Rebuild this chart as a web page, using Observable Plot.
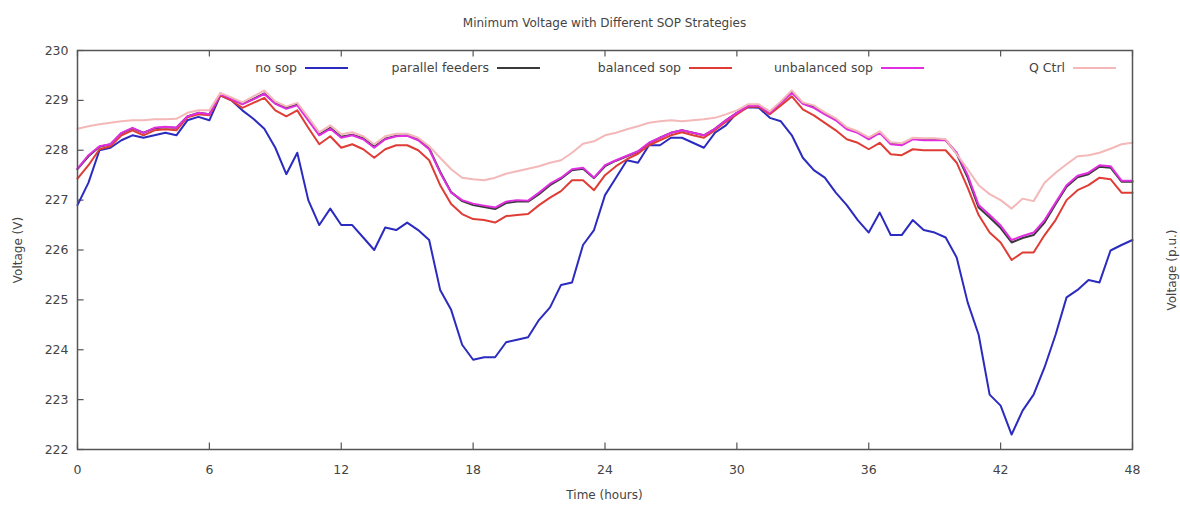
<!DOCTYPE html>
<html><head><meta charset="utf-8">
<script src="https://cdn.jsdelivr.net/npm/d3@7"></script>
<script src="https://cdn.jsdelivr.net/npm/@observablehq/plot@0.6"></script>
<style>
body{margin:0;background:#fff;font-family:"DejaVu Sans",sans-serif;color:#444;}
#wrap{position:relative;width:1180px;height:505px;overflow:hidden;}
#title{position:absolute;left:0;top:16px;width:1209px;text-align:center;font-size:12px;color:#444;}
#chart{position:absolute;left:0;top:40px;}
#legend{position:absolute;left:156px;top:60px;display:flex;}
.entry{width:192px;display:flex;justify-content:flex-end;align-items:center;font-size:12.5px;color:#444;}
.swatch{display:inline-block;width:43px;height:0;border-top:2px solid;margin-left:8px;}
.ylab{position:absolute;font-size:12px;color:#444;white-space:nowrap;transform:translate(-50%,-50%) rotate(-90deg);}
#xlab{position:absolute;left:0;width:1209px;top:488px;text-align:center;font-size:12px;color:#444;}
</style>
</head><body>
<div id="wrap">
  <div id="title">Minimum Voltage with Different SOP Strategies</div>
  <div id="chart"></div>
  <div id="legend"></div>
  <div class="ylab" style="left:18px;top:250px;">Voltage (V)</div>
  <div class="ylab" style="left:1172px;top:270px;">Voltage (p.u.)</div>
  <div id="xlab">Time (hours)</div>
</div>
<script>
const hours = d3.range(0, 48.5, 0.5);
const xTicks = [0, 6, 12, 18, 24, 30, 36, 42, 48];
const yTicks = [222, 223, 224, 225, 226, 227, 228, 229, 230];
const seriesNames = ["no sop", "parallel feeders", "balanced sop", "unbalanced sop", "Q Ctrl"];
const seriesColors = ["#2b2bbf", "#3a3a3a", "#e03c36", "#e02ee0", "#f4b8b8"];

const noSop = [
  226.9, 227.35, 228.0, 228.05, 228.2, 228.3, 228.25, 228.3, 228.35, 228.3,
  228.6, 228.67, 228.6, 229.1, 229.0, 228.8, 228.63, 228.43, 228.05, 227.52,
  227.95, 227.0, 226.5, 226.83, 226.5, 226.5, 226.25, 226.0, 226.45, 226.4,
  226.55, 226.4, 226.2, 225.2, 224.8, 224.1, 223.8, 223.85, 223.85, 224.15,
  224.2, 224.25, 224.6, 224.85, 225.3, 225.35, 226.1, 226.4, 227.1, 227.45,
  227.8, 227.75, 228.1, 228.1, 228.25, 228.25, 228.15, 228.05, 228.35, 228.5,
  228.75, 228.86, 228.85, 228.65, 228.58, 228.3, 227.85, 227.6, 227.45, 227.15,
  226.9, 226.6, 226.35, 226.75, 226.3, 226.3, 226.6, 226.4, 226.35, 226.25,
  225.85, 224.95, 224.3, 223.1, 222.88, 222.3, 222.78, 223.1, 223.65, 224.3,
  225.05, 225.2, 225.4, 225.35, 225.99, 226.1, 226.2
];
const parallelFeeders = [
  227.62, 227.88, 228.07, 228.12, 228.34, 228.44, 228.35, 228.44, 228.46, 228.45,
  228.68, 228.75, 228.72, 229.13, 229.03, 228.93, 229.03, 229.14, 228.94, 228.85,
  228.92, 228.62, 228.32, 228.45, 228.27, 228.31, 228.24, 228.07, 228.23, 228.29,
  228.3, 228.22, 228.04, 227.57, 227.16, 226.98, 226.9, 226.86, 226.82, 226.94,
  226.97, 226.97, 227.12, 227.3, 227.43, 227.6, 227.63, 227.44, 227.68, 227.79,
  227.88, 227.97, 228.14, 228.25, 228.35, 228.4, 228.35, 228.3, 228.43, 228.6,
  228.75, 228.89, 228.89, 228.76, 228.96, 229.16, 228.95, 228.87, 228.74, 228.62,
  228.44, 228.37, 228.24, 228.37, 228.14, 228.12, 228.24, 228.22, 228.22, 228.21,
  227.93, 227.45, 226.85, 226.65, 226.44, 226.15, 226.24, 226.3, 226.55, 226.92,
  227.27, 227.46, 227.52, 227.67, 227.65, 227.37, 227.37
];
const balancedSop = [
  227.43, 227.7, 228.02, 228.08, 228.3, 228.4, 228.3, 228.4, 228.42, 228.4,
  228.66, 228.72, 228.7, 229.1, 229.0, 228.85, 228.95, 229.05, 228.8, 228.68,
  228.8, 228.45, 228.12, 228.28, 228.05, 228.12, 228.02, 227.85, 228.02, 228.1,
  228.1, 228.0, 227.8, 227.3, 226.92, 226.72, 226.62, 226.6, 226.55, 226.68,
  226.7, 226.72, 226.9, 227.05, 227.18, 227.4, 227.4, 227.2, 227.5, 227.68,
  227.82, 227.93, 228.1, 228.2, 228.3, 228.36, 228.3, 228.25, 228.4, 228.57,
  228.72, 228.87, 228.87, 228.72, 228.9, 229.08, 228.82, 228.7, 228.55, 228.4,
  228.22, 228.15, 228.02, 228.15, 227.92, 227.9, 228.02, 228.0, 228.0, 228.0,
  227.75, 227.25, 226.7, 226.35, 226.15, 225.8, 225.95, 225.95, 226.3, 226.6,
  227.0, 227.2, 227.3, 227.45, 227.42, 227.15, 227.15
];
const unbalancedSop = [
  227.63, 227.9, 228.08, 228.12, 228.35, 228.45, 228.35, 228.45, 228.47, 228.45,
  228.68, 228.75, 228.72, 229.13, 229.03, 228.92, 229.02, 229.13, 228.93, 228.83,
  228.9, 228.6, 228.3, 228.43, 228.25, 228.3, 228.22, 228.05, 228.22, 228.28,
  228.29, 228.2, 228.02, 227.55, 227.15, 227.0, 226.93, 226.89, 226.85, 226.97,
  227.0, 226.99, 227.15, 227.33, 227.45, 227.62, 227.65, 227.45, 227.7, 227.8,
  227.89, 227.98, 228.15, 228.25, 228.35, 228.4, 228.35, 228.3, 228.43, 228.6,
  228.75, 228.89, 228.89, 228.75, 228.95, 229.15, 228.93, 228.85, 228.72, 228.6,
  228.42, 228.35, 228.22, 228.35, 228.12, 228.1, 228.22, 228.2, 228.2, 228.2,
  227.95, 227.5, 226.9, 226.7, 226.49, 226.2, 226.28, 226.35, 226.6, 226.95,
  227.3, 227.49, 227.55, 227.7, 227.68, 227.39, 227.39
];
const qCtrl = [
  228.43, 228.48, 228.52, 228.55, 228.58, 228.6, 228.6, 228.62, 228.62, 228.63,
  228.75, 228.8, 228.8, 229.15, 229.06, 228.96, 229.08, 229.2, 228.98, 228.88,
  228.95, 228.66, 228.36, 228.5, 228.32, 228.36, 228.28, 228.12, 228.28, 228.33,
  228.33, 228.25, 228.08, 227.85, 227.62, 227.45, 227.42, 227.4, 227.45, 227.53,
  227.58, 227.63, 227.68, 227.75, 227.8, 227.95, 228.13, 228.18, 228.3, 228.35,
  228.42, 228.48, 228.55, 228.58, 228.6, 228.58, 228.6, 228.62, 228.65, 228.72,
  228.8, 228.92, 228.92, 228.78, 228.98, 229.2, 228.96, 228.9, 228.76, 228.64,
  228.46, 228.38, 228.26, 228.38, 228.16, 228.14, 228.25, 228.24, 228.24, 228.22,
  227.92, 227.62, 227.3, 227.12, 227.0, 226.83, 227.03, 226.98, 227.35, 227.55,
  227.72, 227.88, 227.9, 227.95, 228.03, 228.12, 228.15
];

const allSeries = [noSop, parallelFeeders, balancedSop, unbalancedSop, qCtrl];
const rows = [];
allSeries.forEach((vals, s) => vals.forEach((v, i) => rows.push({t: hours[i], v, s: seriesNames[s]})));

const lineMarks = seriesNames.map((name, s) =>
  Plot.line(rows.filter(d => d.s === name), {x: "t", y: "v", stroke: seriesColors[s], strokeWidth: 2, strokeLinejoin: "round"})
);

const chart = Plot.plot({
  width: 1180, height: 465,
  marginLeft: 77, marginRight: 48, marginTop: 10, marginBottom: 56,
  x: {domain: [0, 48]},
  y: {domain: [222, 230]},
  style: {fontFamily: "DejaVu Sans, sans-serif", fontSize: "12.5px", color: "#444", background: "white"},
  marks: [
    Plot.axisX({ticks: xTicks, tickSize: 0, tickPadding: 16, label: null}),
    Plot.axisY({ticks: yTicks, tickSize: 0, tickPadding: 9, label: null}),
    // inward tick marks (gnuplot style), bottom & top mirrored for x, left for y
    Plot.ruleX(xTicks, {x: d => d, y1: 222, y2: 222.13, stroke: "#555", strokeWidth: 1.2}),
    Plot.ruleX(xTicks, {x: d => d, y1: 230, y2: 229.87, stroke: "#555", strokeWidth: 1.2}),
    Plot.ruleY(yTicks, {y: d => d, x1: 0, x2: 0.3, stroke: "#555", strokeWidth: 1.2}),
    ...lineMarks,
    Plot.frame({stroke: "#555", strokeWidth: 1.5})
  ]
});
document.getElementById("chart").appendChild(chart);

const legend = document.getElementById("legend");
seriesNames.forEach((name, s) => {
  const e = document.createElement("div");
  e.className = "entry";
  const t = document.createElement("span");
  t.textContent = name;
  const sw = document.createElement("span");
  sw.className = "swatch";
  sw.style.borderTopColor = seriesColors[s];
  e.appendChild(t); e.appendChild(sw);
  legend.appendChild(e);
});
</script>
</body></html>
